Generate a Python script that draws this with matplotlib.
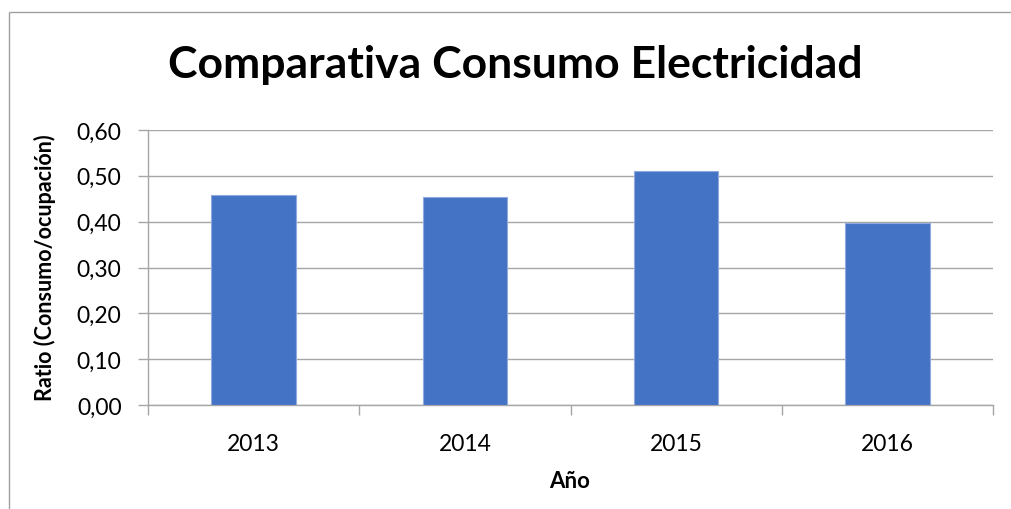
import matplotlib
matplotlib.use("Agg")
import matplotlib.pyplot as plt
from matplotlib.lines import Line2D
from matplotlib.ticker import FixedLocator, FuncFormatter

years = ["2013", "2014", "2015", "2016"]
ratios = [0.458, 0.453, 0.511, 0.397]

plt.rcParams['font.family'] = ['Lato', 'DejaVu Sans']

W, H = 1011, 510
fig = plt.figure(figsize=(W / 100, H / 100), dpi=100)
ax = fig.add_axes([148 / W, 1 - 406 / H, (993 - 148) / W, (406 - 131) / H])

grid_col = '#a6a6a6'
x = range(len(years))
ax.bar(x, ratios, width=0.4, color='#4472c4', edgecolor='#8faadc', linewidth=0.8, zorder=3)

ax.set_xlim(-0.5, len(years) - 0.5)
ax.set_ylim(0, 0.6)
ax.set_yticks([i / 10 for i in range(7)])
ax.yaxis.set_major_formatter(FuncFormatter(lambda v, p: f"{v:.2f}".replace('.', ',')))
ax.yaxis.grid(True, color=grid_col, linewidth=1, zorder=0)

# categories labelled at centres, tick marks at boundaries
ax.set_xticks(list(x))
ax.set_xticklabels(years)
ax.xaxis.set_minor_locator(FixedLocator([i - 0.5 for i in range(len(years) + 1)]))
ax.tick_params(axis='x', which='major', length=0, pad=20, labelsize=16.5)
ax.tick_params(axis='x', which='minor', length=7, color=grid_col, width=1)
ax.tick_params(axis='y', length=7, color=grid_col, width=1, pad=12, labelsize=16.5)

for s in ['top', 'right']:
    ax.spines[s].set_visible(False)
for s in ['left', 'bottom']:
    ax.spines[s].set_color(grid_col)
    ax.spines[s].set_linewidth(1)

fig.text(515 / W, 1 - 65 / H, "Comparativa Consumo Electricidad", ha='center', va='center',
         fontsize=32, fontweight='bold')
fig.text(45 / W, 1 - 268 / H, "Ratio (Consumo/ocupación)", ha='center', va='center',
         rotation=90, fontsize=15.5, fontweight='bold')
fig.text(570 / W, 1 - 482 / H, "Año", ha='center', va='center', fontsize=16, fontweight='bold')

# chart area border (top and left edges visible)
bx, by = 8.5 / W, 1 - 12.5 / H
fig.add_artist(Line2D([bx, 1.05], [by, by], transform=fig.transFigure, color='#a0a0a0',
                      linewidth=1, solid_capstyle='butt'))
fig.add_artist(Line2D([bx, bx], [-0.05, by], transform=fig.transFigure, color='#a0a0a0',
                      linewidth=1, solid_capstyle='butt'))

fig.savefig("out.png", dpi=100, facecolor='white', edgecolor='none')
